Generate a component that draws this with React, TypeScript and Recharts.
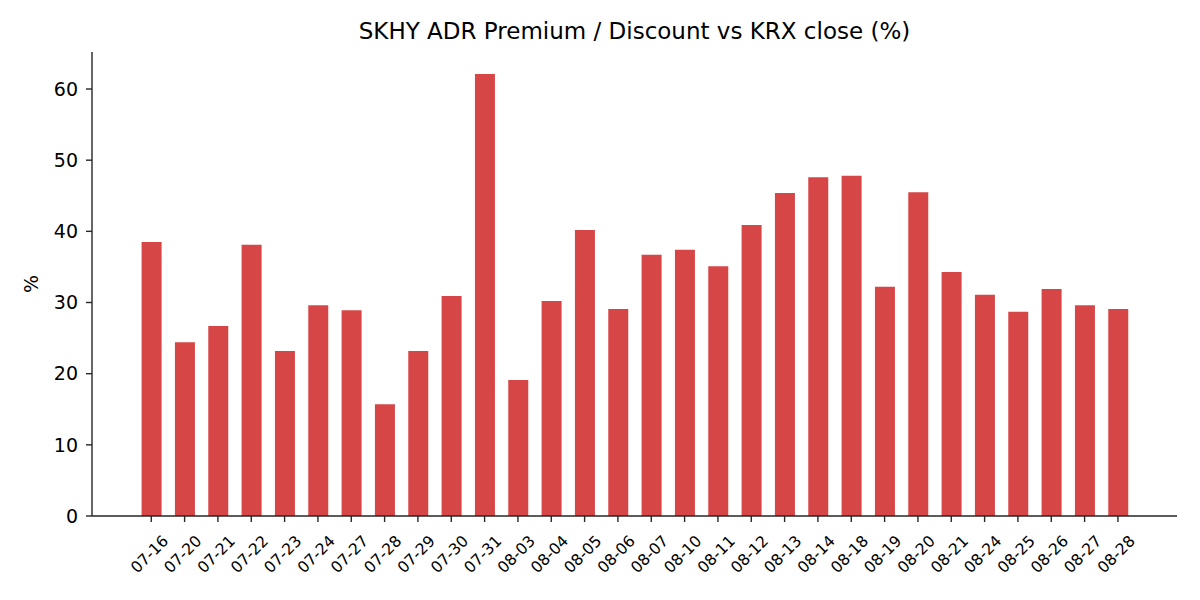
import React from 'react';
import { BarChart, Bar, XAxis, YAxis } from 'recharts';

const dates = [
  '07-16', '07-20', '07-21', '07-22', '07-23', '07-24', '07-27', '07-28', '07-29', '07-30',
  '07-31', '08-03', '08-04', '08-05', '08-06', '08-07', '08-10', '08-11', '08-12', '08-13',
  '08-14', '08-18', '08-19', '08-20', '08-21', '08-24', '08-25', '08-26', '08-27', '08-28',
];

const premium = [
  38.5, 24.4, 26.7, 38.1, 23.2, 29.6, 28.9, 15.7, 23.2, 30.9,
  62.1, 19.1, 30.2, 40.2, 29.1, 36.7, 37.4, 35.1, 40.9, 45.4,
  47.6, 47.8, 32.2, 45.5, 34.3, 31.1, 28.7, 31.9, 29.6, 29.1,
];

const yTicks = [0, 10, 20, 30, 40, 50, 60];

const data = dates.map((d, i) => ({ date: d, value: premium[i] }));

const FONT = '"DejaVu Sans", sans-serif';
const AXIS_COLOR = '#262626';

const XTick = (props: any) => {
  const { x, y, payload } = props;
  return (
    <g transform={`translate(${x + 18},${y + 18})`}>
      <text textAnchor="end" transform="rotate(-45)" fontSize={15.6} fontFamily={FONT} fill="#000">
        {payload.value}
      </text>
    </g>
  );
};

const YLabel = (props: any) => {
  const vb = props.viewBox || {};
  const cy = (vb.y ?? 52) + (vb.height ?? 464) / 2;
  const cx = 38;
  return (
    <text
      x={cx}
      y={cy}
      textAnchor="middle"
      transform={`rotate(-90, ${cx}, ${cy})`}
      fontSize={19}
      fontFamily={FONT}
      fill="#000"
    >
      %
    </text>
  );
};

export default function App() {
  return (
    <div style={{ position: 'absolute', left: 0, top: 0, width: 1200, height: 600, background: '#fff' }}>
      <div
        style={{
          position: 'absolute',
          left: 92,
          top: 20,
          width: 1085,
          textAlign: 'center',
          fontFamily: FONT,
          fontSize: 23,
          lineHeight: '23px',
          color: '#000',
          whiteSpace: 'nowrap',
        }}
      >
        SKHY ADR Premium / Discount vs KRX close (%)
      </div>
      <BarChart
        width={1200}
        height={600}
        data={data}
        margin={{ top: 52, right: 23, left: 0, bottom: 0 }}
        style={{ position: 'absolute', left: 0, top: 0 }}
      >
        <XAxis
          dataKey="date"
          type="category"
          padding={{ left: 42.6, right: 42.4 }}
          interval={0}
          height={84}
          tick={<XTick />}
          tickSize={6}
          axisLine={{ stroke: AXIS_COLOR, strokeWidth: 1.4 }}
          tickLine={{ stroke: AXIS_COLOR, strokeWidth: 1.4 }}
        />
        <YAxis
          type="number"
          domain={[0, 65.2]}
          ticks={yTicks}
          width={92}
          tickSize={6}
          tickMargin={8}
          allowDataOverflow
          axisLine={{ stroke: AXIS_COLOR, strokeWidth: 1.4 }}
          tickLine={{ stroke: AXIS_COLOR, strokeWidth: 1.4 }}
          tick={{ fontSize: 19, fontFamily: FONT, fill: '#000' }}
          label={<YLabel />}
        />
        <Bar dataKey="value" fill="#d64646" barSize={20} isAnimationActive={false} />
      </BarChart>
    </div>
  );
}
